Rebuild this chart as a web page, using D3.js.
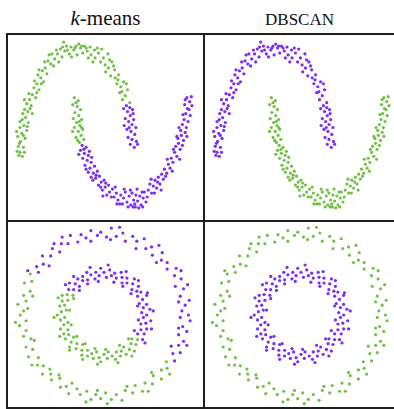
<!DOCTYPE html>
<html>
<head>
<meta charset="utf-8">
<script src="https://cdn.jsdelivr.net/npm/d3@7"></script>
<style>
  html, body { margin: 0; padding: 0; background: #fff; }
  svg { display: block; }
</style>
</head>
<body>
<svg id="chart" width="394" height="409"></svg>
<script>
// Two-moons samples: [x, y, k-means cluster] (0 = green, 1 = purple)
const moonUpper = [
  [1.04,0.02,1],[0.97,0.05,1],[1.08,0.08,1],[1.00,0.10,1],[0.93,0.12,1],[1.05,0.15,1],[0.98,0.18,1],[0.91,0.20,1],
  [1.07,0.22,1],[1.00,0.25,1],[0.94,0.28,1],[1.03,0.30,1],[0.88,0.31,1],[0.97,0.34,1],[0.92,0.38,1],[1.01,0.40,1],
  [0.85,0.41,1],[0.90,0.44,1],[1.10,0.05,1],[0.95,0.22,1],[1.02,0.36,1],[0.86,0.24,1],[0.96,0.42,1],
  [0.96,0.47,0],[0.83,0.50,0],[0.88,0.54,0],[0.78,0.57,0],[0.92,0.60,0],[0.80,0.63,0],[0.73,0.66,0],[0.85,0.68,0],
  [0.70,0.72,0],[0.76,0.75,0],[0.82,0.58,0],[0.90,0.66,0],[0.75,0.70,0],
  [0.62,0.74,0],[0.69,0.80,0],[0.58,0.82,0],[0.64,0.88,0],[0.52,0.85,0],[0.49,0.92,0],[0.57,0.96,0],[0.44,0.88,0],
  [0.40,0.97,0],[0.46,1.01,0],[0.34,0.92,0],[0.67,0.84,0],[0.60,0.90,0],[0.53,0.78,0],[0.38,1.02,0],[0.30,0.88,0],
  [0.33,1.00,0],[0.27,0.95,0],[0.25,1.03,0],[0.20,0.99,0],[0.15,1.04,0],[0.12,0.97,0],[0.08,1.02,0],[0.02,0.95,0],
  [0.00,1.04,0],[-0.04,1.00,0],[0.05,1.06,0],[0.22,0.92,0],[0.18,1.02,0],[0.10,1.04,0],[-0.02,1.02,0],
  [-0.09,1.03,0],[-0.12,0.96,0],[-0.17,1.04,0],[-0.20,0.99,0],[-0.25,0.93,0],[-0.28,1.01,0],[-0.33,0.96,0],
  [-0.31,0.88,0],[-0.38,0.91,0],[-0.22,1.08,0],[-0.08,0.93,0],[-0.15,1.00,0],[-0.24,1.03,0],[-0.35,1.00,0],
  [-0.43,0.96,0],[-0.45,0.86,0],[-0.50,0.89,0],[-0.55,0.82,0],[-0.52,0.76,0],[-0.60,0.79,0],[-0.63,0.72,0],
  [-0.58,0.68,0],[-0.68,0.75,0],[-0.70,0.66,0],[-0.66,0.60,0],[-0.40,0.84,0],[-0.48,0.95,0],[-0.56,0.88,0],
  [-0.62,0.66,0],[-0.66,0.80,0],[-0.74,0.69,0],[-0.70,0.57,0],
  [-0.75,0.62,0],[-0.78,0.55,0],[-0.72,0.52,0],[-0.83,0.50,0],[-0.80,0.44,0],[-0.88,0.46,0],[-0.86,0.38,0],
  [-0.92,0.40,0],[-0.78,0.36,0],[-0.90,0.32,0],[-0.96,0.30,0],[-0.85,0.27,0],[-0.84,0.56,0],[-0.92,0.50,0],
  [-0.82,0.41,0],[-0.95,0.36,0],[-1.00,0.28,0],[-0.87,0.23,0],
  [-0.93,0.24,0],[-1.00,0.22,0],[-0.88,0.19,0],[-0.97,0.16,0],[-1.04,0.13,0],[-0.91,0.11,0],[-0.99,0.08,0],
  [-1.03,0.03,0],[-0.94,0.02,0],[-1.00,-0.03,0],[-0.96,-0.07,0],[-1.05,-0.02,0],[-1.06,0.18,0],[-0.94,0.14,0],
  [-1.01,0.06,0],[-0.92,-0.03,0],[-1.02,-0.06,0]
];
const moonLower = [
  [-0.03,0.52,0],[0.04,0.49,0],[-0.06,0.45,0],[0.02,0.43,0],[0.08,0.40,0],[-0.02,0.37,0],[0.05,0.34,0],[-0.05,0.31,0],
  [0.10,0.30,0],[0.01,0.27,0],[0.07,0.24,0],[-0.03,0.22,0],[0.12,0.20,0],[0.04,0.18,0],[0.09,0.14,0],[0.00,0.12,0],
  [0.14,0.10,0],[0.06,0.07,0],[0.00,0.47,0],[0.06,0.28,0],[-0.06,0.18,0],[0.10,0.22,0],[0.03,0.09,0],
  [0.11,0.04,1],[0.18,0.02,1],[0.08,-0.01,1],[0.15,-0.04,1],[0.22,-0.06,1],[0.12,-0.09,1],[0.20,-0.11,1],
  [0.27,-0.13,1],[0.16,-0.16,1],[0.25,-0.19,1],[0.33,-0.17,1],[0.22,-0.23,1],[0.14,0.00,1],[0.05,-0.05,1],
  [0.24,-0.02,1],[0.18,-0.20,1],[0.28,-0.08,1],
  [0.31,-0.24,1],[0.38,-0.22,1],[0.35,-0.29,1],[0.42,-0.27,1],[0.30,-0.31,1],[0.45,-0.33,1],[0.40,-0.36,1],
  [0.50,-0.31,1],[0.52,-0.38,1],[0.47,-0.41,1],[0.58,-0.36,1],[0.60,-0.43,1],[0.55,-0.46,1],[0.36,-0.26,1],
  [0.27,-0.28,1],[0.44,-0.38,1],[0.53,-0.34,1],[0.48,-0.47,1],
  [0.65,-0.40,1],[0.68,-0.48,1],[0.72,-0.44,1],[0.75,-0.51,1],[0.80,-0.46,1],[0.78,-0.55,1],[0.85,-0.49,1],
  [0.88,-0.43,1],[0.91,-0.53,1],[0.95,-0.47,1],[0.98,-0.56,1],[1.00,-0.44,1],[0.63,-0.48,1],[0.70,-0.38,1],
  [0.73,-0.55,1],[0.83,-0.55,1],[0.86,-0.40,1],[0.93,-0.58,1],[0.97,-0.41,1],
  [1.03,-0.51,1],[1.07,-0.46,1],[1.06,-0.58,1],[1.10,-0.52,1],[1.14,-0.47,1],[1.16,-0.56,1],[1.20,-0.49,1],
  [1.22,-0.43,1],[1.25,-0.53,1],[1.02,-0.58,1],[1.12,-0.59,1],[1.05,-0.55,1],[1.09,-0.40,1],[1.18,-0.43,1],
  [1.19,-0.58,1],[1.27,-0.48,1],
  [1.29,-0.41,1],[1.32,-0.35,1],[1.35,-0.44,1],[1.38,-0.37,1],[1.41,-0.31,1],[1.44,-0.39,1],[1.47,-0.28,1],
  [1.50,-0.35,1],[1.53,-0.25,1],[1.56,-0.30,1],[1.58,-0.20,1],[1.34,-0.30,1],[1.40,-0.44,1],[1.46,-0.33,1],
  [1.52,-0.41,1],[1.60,-0.27,1],
  [1.62,-0.24,1],[1.65,-0.15,1],[1.68,-0.19,1],[1.70,-0.09,1],[1.73,-0.13,1],[1.76,-0.03,1],[1.80,-0.07,1],
  [1.78,0.03,1],[1.83,0.06,1],[1.86,0.00,1],[1.82,0.11,1],[1.63,-0.10,1],[1.72,-0.22,1],[1.74,0.00,1],
  [1.85,-0.10,1],[1.80,0.13,1],[1.90,0.04,1],
  [1.88,0.14,1],[1.92,0.09,1],[1.87,0.19,1],[1.95,0.17,1],[1.90,0.25,1],[1.97,0.22,1],[1.93,0.30,1],[2.00,0.28,1],
  [1.96,0.36,1],[2.04,0.34,1],[1.99,0.41,1],[1.94,0.45,1],[2.03,0.48,1],[1.98,0.52,1],[2.06,0.53,1],[1.84,0.22,1],
  [1.98,0.13,1],[1.91,0.35,1],[2.02,0.40,1],[1.95,0.50,1],[2.07,0.44,1]
];

// Concentric-circles samples: [x, y, k-means cluster] (0 = green, 1 = purple)
const ringOuter = [
  [1.03,0.00,1],[0.95,0.05,1],[0.99,0.12,1],[1.04,0.18,1],[0.93,0.23,1],[0.97,0.32,1],[0.87,0.35,1],[0.94,0.44,1],
  [0.86,0.48,1],[0.88,0.57,1],[0.77,0.56,1],[0.77,0.64,1],[0.70,0.67,1],[0.71,0.76,1],[0.59,0.73,1],[0.58,0.83,1],
  [0.51,0.81,1],[0.49,0.93,1],[0.40,0.90,1],[0.35,0.96,1],[0.26,0.90,1],[0.23,1.00,1],[0.15,0.96,1],[0.09,1.06,1],
  [0.03,0.95,1],[-0.04,1.01,1],[-0.08,0.97,1],[-0.16,1.03,1],[-0.22,0.94,1],[-0.28,0.98,1],[-0.32,0.89,1],
  [-0.41,0.97,1],[-0.44,0.87,1],[-0.52,0.87,1],[-0.54,0.77,1],[-0.63,0.81,1],[-0.65,0.72,1],[-0.75,0.72,1],
  [-0.74,0.62,1],[-0.82,0.59,1],[-0.80,0.52,1],
  [0.91,0.16,1],[0.94,0.54,1],[0.67,0.85,1],[0.39,0.81,1],[0.19,1.07,1],[-0.16,0.90,1],[-0.51,0.95,1],
  [-0.67,0.60,1],[-0.93,0.54,1],[1.02,0.37,1],[0.64,0.64,1],[0.08,0.92,1],[-0.61,0.87,1],
  [-0.90,0.50,0],[-0.88,0.41,0],[-0.97,0.39,0],[-0.90,0.29,0],[-0.98,0.24,0],[-0.95,0.17,0],[-1.05,0.13,0],
  [-0.98,0.05,0],[-1.02,0.00,0],[-0.95,-0.07,0],[-1.03,-0.13,0],[-0.95,-0.19,0],[-0.98,-0.26,0],[-0.89,-0.29,0],
  [-0.95,-0.39,0],[-0.87,-0.42,0],[-0.92,-0.51,0],[-0.80,-0.52,0],[-0.81,-0.61,0],[-0.74,-0.62,0],[-0.75,-0.72,0],
  [-0.65,-0.72,0],[-0.64,-0.79,0],[-0.54,-0.77,0],[-0.53,-0.88,0],[-0.46,-0.87,0],[-0.43,-0.96,0],[-0.33,-0.90,0],
  [-0.29,-0.97,0],[-0.21,-0.93,0],[-0.16,-1.03,0],[-0.10,-0.97,0],[-0.04,-1.02,0],[0.02,-0.95,0],[0.09,-1.03,0],
  [0.15,-0.97,0],[0.22,-1.04,0],[0.26,-0.92,0],[0.35,-0.95,0],[0.38,-0.86,0],[0.47,-0.93,0],[0.50,-0.83,0],
  [0.59,-0.84,0],[0.60,-0.74,0],[0.70,-0.78,0],[0.70,-0.67,0],[0.77,-0.65,0],[0.76,-0.57,0],
  [-0.87,0.23,0],[-1.08,-0.09,0],[-0.85,-0.31,0],[-0.88,-0.61,0],[-0.55,-0.73,0],[-0.39,-0.83,0],[-0.22,-1.06,0],
  [0.04,-1.08,0],[0.28,-0.87,0],[0.54,-0.93,0],[0.80,-0.72,0],[-0.93,0.08,0],[-0.66,-0.66,0],[-0.08,-0.92,0],
  [0.58,-0.70,0],
  [0.86,-0.56,1],[0.84,-0.47,1],[0.93,-0.46,1],[0.91,-0.37,1],[0.97,-0.32,1],[0.91,-0.24,1],[1.01,-0.20,1],
  [0.96,-0.14,1],[1.05,-0.07,1],[0.82,-0.38,1],[0.91,-0.16,1],[1.01,-0.37,1],[0.93,-0.03,1]
];
const ringInner = [
  [0.52,0.00,1],[0.46,0.03,1],[0.56,0.07,1],[0.48,0.09,1],[0.52,0.13,1],[0.43,0.14,1],[0.47,0.19,1],[0.52,0.24,1],
  [0.41,0.23,1],[0.45,0.28,1],[0.40,0.29,1],[0.42,0.35,1],[0.34,0.31,1],[0.35,0.38,1],[0.37,0.44,1],[0.28,0.39,1],
  [0.28,0.45,1],[0.22,0.39,1],[0.22,0.46,1],[0.21,0.52,1],[0.15,0.45,1],[0.13,0.51,1],[0.09,0.48,1],[0.07,0.55,1],
  [0.03,0.46,1],[0.00,0.52,1],[-0.04,0.57,1],[-0.06,0.48,1],[-0.10,0.52,1],[-0.11,0.44,1],[-0.16,0.49,1],
  [-0.21,0.52,1],[-0.20,0.43,1],[-0.26,0.47,1],[-0.26,0.42,1],[-0.32,0.44,1],[-0.30,0.35,1],[-0.35,0.38,1],
  [-0.42,0.39,1],[-0.37,0.31,1],[-0.43,0.31,1],
  [0.60,0.05,1],[0.41,0.11,1],[0.53,0.27,1],[0.33,0.26,1],[0.42,0.42,1],[0.23,0.35,1],[0.27,0.53,1],[0.12,0.40,1],
  [0.05,0.61,1],[-0.07,0.41,1],[-0.17,0.58,1],[-0.20,0.38,1],[-0.37,0.47,1],[-0.30,0.30,1],[-0.47,0.37,1],
  [-0.38,0.24,0],[-0.45,0.25,0],[-0.51,0.24,0],[-0.44,0.18,0],[-0.51,0.17,0],[-0.48,0.12,0],[-0.54,0.11,0],
  [-0.46,0.06,0],[-0.52,0.04,0],[-0.57,0.00,0],[-0.48,-0.03,0],[-0.53,-0.06,0],[-0.44,-0.09,0],[-0.49,-0.12,0],
  [-0.53,-0.17,0],[-0.44,-0.18,0],[-0.49,-0.23,0],[-0.43,-0.24,0],[-0.47,-0.29,0],[-0.37,-0.27,0],[-0.40,-0.33,0],
  [-0.42,-0.39,0],[-0.33,-0.35,0],[-0.34,-0.41,0],[-0.26,-0.36,0],[-0.27,-0.43,0],[-0.27,-0.49,0],[-0.20,-0.43,0],
  [-0.20,-0.50,0],[-0.15,-0.47,0],[-0.13,-0.53,0],[-0.09,-0.45,0],[-0.06,-0.52,0],[-0.04,-0.57,0],[0.00,-0.48,0],
  [0.04,-0.53,0],[0.05,-0.45,0],[0.10,-0.50,0],[0.14,-0.54,0],[0.15,-0.45,0],[0.20,-0.50,0],[0.21,-0.44,0],
  [0.27,-0.48,0],[0.24,-0.39,0],[0.31,-0.42,0],[0.37,-0.44,0],[0.33,-0.35,0],[0.39,-0.36,0],[0.34,-0.29,0],
  [0.41,-0.30,0],
  [-0.37,0.20,0],[-0.56,0.21,0],[-0.42,0.06,0],[-0.61,-0.03,0],[-0.40,-0.12,0],[-0.54,-0.26,0],[-0.33,-0.26,0],
  [-0.42,-0.43,0],[-0.23,-0.35,0],[-0.26,-0.54,0],[-0.11,-0.41,0],[-0.08,-0.60,0],[0.02,-0.42,0],[0.17,-0.58,0],
  [0.19,-0.37,0],[0.34,-0.50,0],[0.30,-0.29,0],
  [0.47,-0.30,1],[0.41,-0.23,1],[0.49,-0.23,1],[0.45,-0.18,1],[0.52,-0.17,1],[0.45,-0.11,1],[0.51,-0.10,1],
  [0.57,-0.07,1],[0.48,-0.03,1],[0.50,-0.34,1],[0.37,-0.19,1],[0.58,-0.17,1],[0.42,-0.06,1]
];

const columnTitles = ["k-means", "DBSCAN"];
const clusterColors = ["#72c146", "#7d2cf2"];

// DBSCAN recovers the true shapes: each named set is its own cluster
const dbscanCluster = { moonUpper: 1, moonLower: 0, ringOuter: 0, ringInner: 1 };

const svg = d3.select("#chart");

// panel grid edges (the right-most edge lies just outside the view)
const colX = [7, 204, 401];
const rowY = [34, 221, 408];

// scales in panel-local pixels
const moonX = d3.scaleLinear().domain([-1, 2]).range([13, 181]);
const moonY = d3.scaleLinear().domain([-0.5, 1]).range([165, 16]);
const ringX = d3.scaleLinear().domain([-1, 1]).range([15, 179]);
const ringY = d3.scaleLinear().domain([-1, 1]).range([176, 12]);

const rows = [
  { sets: [["moonUpper", moonUpper], ["moonLower", moonLower]], x: moonX, y: moonY },
  { sets: [["ringOuter", ringOuter], ["ringInner", ringInner]], x: ringX, y: ringY }
];

rows.forEach((row, ri) => {
  [0, 1].forEach(ci => {
    const g = svg.append("g").attr("transform", `translate(${colX[ci]},${rowY[ri]})`);
    const pts = [];
    row.sets.forEach(([name, arr]) => {
      arr.forEach(p => pts.push({ x: p[0], y: p[1], c: ci === 0 ? p[2] : dbscanCluster[name] }));
    });
    g.selectAll("circle").data(pts).join("circle")
      .attr("cx", d => row.x(d.x))
      .attr("cy", d => row.y(d.y))
      .attr("r", 1.6)
      .attr("fill", d => clusterColors[d.c]);
  });
});

// panel frame
const frame = svg.append("g").attr("stroke", "#1e1e1e").attr("stroke-width", 2).attr("fill", "none");
colX.forEach(x => frame.append("line").attr("x1", x).attr("x2", x).attr("y1", rowY[0]).attr("y2", rowY[2]));
rowY.forEach(y => frame.append("line").attr("x1", colX[0] - 1).attr("x2", colX[2]).attr("y1", y).attr("y2", y));

// column titles
const serif = "'Liberation Serif', 'Times New Roman', serif";
const t0 = svg.append("text")
  .attr("x", (colX[0] + colX[1]) / 2).attr("y", 25)
  .attr("text-anchor", "middle")
  .attr("font-family", serif)
  .attr("font-size", 21).attr("fill", "#111");
t0.append("tspan").attr("font-style", "italic").text(columnTitles[0].charAt(0));
t0.append("tspan").text(columnTitles[0].slice(1));

svg.append("text")
  .attr("x", (colX[1] + colX[2]) / 2 - 3).attr("y", 25)
  .attr("text-anchor", "middle")
  .attr("font-family", serif)
  .attr("font-size", 17).attr("fill", "#111")
  .text(columnTitles[1]);
</script>
</body>
</html>
